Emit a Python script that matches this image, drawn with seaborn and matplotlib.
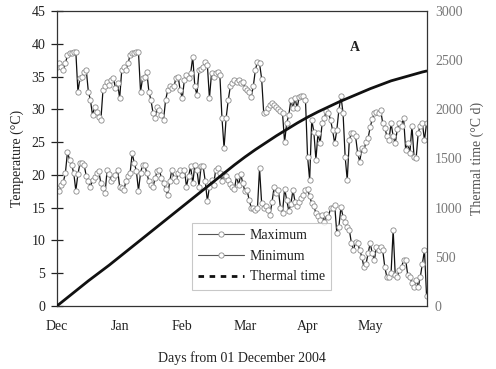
import seaborn as sns
import pandas as pd
import matplotlib.pyplot as plt
from matplotlib.lines import Line2D

# Daily maximum temperature (°C), blocks of 30 days from 01 Dec 2004
tmax_dec = [36.5, 37.0, 36.5, 36.0, 37.0, 38.3, 38.6, 38.6, 38.8, 38.8,
            32.7, 34.8, 35.0, 35.7, 36.0, 32.7, 31.4, 29.1, 30.4, 29.6,
            28.9, 28.4, 32.9, 33.5, 34.2, 33.7, 34.5, 34.8, 33.2, 34.0]
tmax_jan = [31.7, 36.0, 36.5, 36.0, 37.0, 38.3, 38.6, 38.6, 38.8, 38.8,
            32.7, 34.8, 35.0, 35.7, 32.7, 31.4, 29.4, 28.7, 30.4, 29.9,
            29.1, 28.4, 31.4, 32.9, 33.5, 33.2, 33.5, 34.8, 35.0, 32.9]
tmax_feb = [31.7, 34.5, 35.2, 34.8, 35.5, 38.0, 33.5, 32.2, 36.0, 36.2,
            36.5, 37.3, 36.8, 31.7, 35.5, 35.0, 35.5, 35.7, 35.2, 28.7,
            24.1, 28.7, 31.4, 33.5, 34.0, 34.5, 34.2, 34.5, 34.0, 34.2]
tmax_mar = [33.3, 33.0, 32.7, 31.9, 33.5, 36.0, 37.3, 37.0, 34.7, 29.4,
            29.6, 30.2, 30.7, 30.9, 30.6, 30.4, 30.0, 29.7, 29.4, 25.0,
            27.9, 29.1, 31.4, 30.2, 31.7, 30.2, 31.9, 32.1, 32.0, 31.4]
tmax_apr = [22.8, 19.2, 28.4, 26.6, 22.3, 26.4, 24.8, 27.9, 28.7, 29.8,
            29.5, 28.4, 26.8, 24.8, 26.8, 29.9, 32.0, 29.4, 22.8, 19.2,
            25.3, 26.4, 26.4, 25.9, 23.3, 22.0, 24.1, 23.8, 25.0, 25.6]
tmax_may = [27.3, 28.5, 29.4, 29.6, 29.4, 29.9, 27.9, 27.2, 25.9, 25.3,
            27.9, 25.9, 24.8, 27.0, 27.9, 27.5, 28.7, 23.8, 24.8, 23.3,
            27.5, 22.8, 22.5, 26.4, 27.5, 27.9, 25.3, 27.9]

# Daily minimum temperature (°C)
tmin_dec = [18.0, 17.6, 18.5, 18.9, 20.3, 23.5, 22.3, 21.5, 20.3, 17.6,
            20.1, 21.8, 21.8, 21.5, 19.8, 19.0, 18.2, 19.2, 19.6, 20.3,
            20.6, 18.7, 18.0, 17.2, 20.8, 20.1, 19.0, 19.5, 20.0, 20.8]
tmin_jan = [18.2, 18.0, 17.7, 19.0, 19.8, 20.3, 23.3, 21.8, 20.6, 17.6,
            20.3, 21.5, 21.5, 20.3, 19.0, 18.4, 18.2, 19.5, 20.6, 20.8,
            19.5, 18.7, 17.8, 16.9, 19.0, 20.8, 19.5, 19.0, 20.3, 20.8]
tmin_feb = [20.0, 20.8, 18.2, 19.8, 21.3, 18.7, 21.5, 20.8, 18.2, 21.3,
            21.3, 19.0, 16.0, 18.2, 19.2, 18.4, 20.8, 21.0, 20.3, 19.0,
            20.1, 19.8, 19.2, 18.6, 18.2, 17.9, 19.8, 18.4, 20.1, 18.7]
tmin_mar = [17.5, 17.7, 16.2, 15.0, 15.0, 14.7, 14.9, 21.0, 15.7, 15.0,
            15.2, 14.7, 13.9, 15.9, 18.2, 17.2, 17.7, 15.0, 14.2, 17.9,
            16.2, 14.5, 15.5, 17.7, 15.9, 15.2, 15.9, 16.4, 16.9, 17.7]
tmin_apr = [17.9, 16.7, 15.7, 15.2, 14.2, 13.7, 13.1, 13.9, 12.8, 14.0,
            13.5, 15.0, 15.0, 15.4, 11.1, 12.1, 15.1, 13.6, 12.8, 12.0,
            11.6, 9.6, 8.5, 9.8, 9.6, 8.5, 7.5, 5.9, 6.4, 8.0]
tmin_may = [9.6, 8.0, 7.0, 9.0, 8.5, 9.0, 8.5, 5.9, 4.4, 4.4,
            5.0, 11.6, 4.7, 4.4, 5.5, 5.9, 7.0, 7.0, 4.7, 4.4,
            3.5, 2.9, 4.0, 2.9, 4.4, 6.4, 8.5, 1.5]

# Cumulative thermal time (°C d), read every 5 days
tt_days = list(range(0, 176, 5)) + [177]
tt_vals = [0, 85, 170, 255, 335, 415, 500, 585, 670, 755, 840, 925,
           1010, 1095, 1180, 1265, 1350, 1435, 1515, 1590, 1660, 1730,
           1795, 1860, 1920, 1975, 2025, 2075, 2120, 2165, 2210, 2250,
           2290, 2320, 2350, 2380, 2390]

month_ticks = [0, 30, 60, 90, 120, 150]
month_labels = ['Dec', 'Jan', 'Feb', 'Mar', 'Apr', 'May']

tmax = tmax_dec + tmax_jan + tmax_feb + tmax_mar + tmax_apr + tmax_may
tmin = tmin_dec + tmin_jan + tmin_feb + tmin_mar + tmin_apr + tmin_may
df = pd.DataFrame({'day': range(len(tmax)), 'tmax': tmax, 'tmin': tmin})
tt = pd.DataFrame({'day': tt_days, 'tt': tt_vals})

sns.set_style('white')
plt.rcParams['font.family'] = ['Liberation Serif', 'DejaVu Serif']
plt.rcParams['text.color'] = '#222222'
plt.rcParams['axes.labelcolor'] = '#222222'

FS = 10

fig = plt.figure(figsize=(4.96, 3.69), dpi=100)
ax = fig.add_axes([0.115, 0.171, 0.745, 0.799])

mk = dict(marker='o', markersize=3.8, markerfacecolor='white',
          markeredgecolor='#8a8a8a', markeredgewidth=0.6)
sns.lineplot(data=df, x='day', y='tmax', ax=ax, color='#111111', lw=0.9, **mk)
sns.lineplot(data=df, x='day', y='tmin', ax=ax, color='#111111', lw=0.9, **mk)

ax.set_xlim(0, 177)
ax.set_ylim(0, 45)
ax.set_yticks(range(0, 46, 5))
ax.set_xticks(month_ticks)
ax.set_xticklabels(month_labels)
ax.tick_params(axis='both', direction='inout', length=9, width=0.9,
               color='#222222', labelsize=FS, labelcolor='#222222', pad=4)
ax.tick_params(axis='x', pad=6)
for s in ax.spines.values():
    s.set_color('#333333')
    s.set_linewidth(0.9)
ax.set_xlabel('Days from 01 December 2004', fontsize=FS, labelpad=13)
ax.set_ylabel('Temperature (°C)', fontsize=FS, labelpad=5)

ax2 = ax.twinx()
sns.lineplot(data=tt, x='day', y='tt', ax=ax2, color='#111111', lw=2.0)
ax2.set_ylim(0, 3000)
ax2.set_yticks(range(0, 3001, 500))
ax2.tick_params(axis='y', length=0, labelsize=FS, labelcolor='#777777', pad=6)
ax2.set_ylabel('Thermal time (°C d)', fontsize=FS, color='#555555', labelpad=6)
for s in ax2.spines.values():
    s.set_visible(False)

ax.text(0.805, 0.875, 'A', transform=ax.transAxes, fontsize=FS,
        fontweight='bold', ha='center', va='center')

handles = [
    Line2D([], [], color='#555555', lw=0.8, **mk),
    Line2D([], [], color='#555555', lw=0.8, **mk),
    Line2D([], [], color='#111111', lw=2.0, linestyle=(0, (2, 2))),
]
leg = fig.legend(handles, ['Maximum', 'Minimum', 'Thermal time'],
                 loc='upper left', bbox_to_anchor=(0.387, 0.396),
                 frameon=True, fancybox=False, fontsize=FS,
                 handlelength=3.3, handletextpad=0.4, labelspacing=0.55,
                 borderpad=0.45, borderaxespad=0)
leg.get_frame().set_edgecolor('#bbbbbb')
leg.get_frame().set_linewidth(0.8)

fig.savefig('out.png', dpi=100)
